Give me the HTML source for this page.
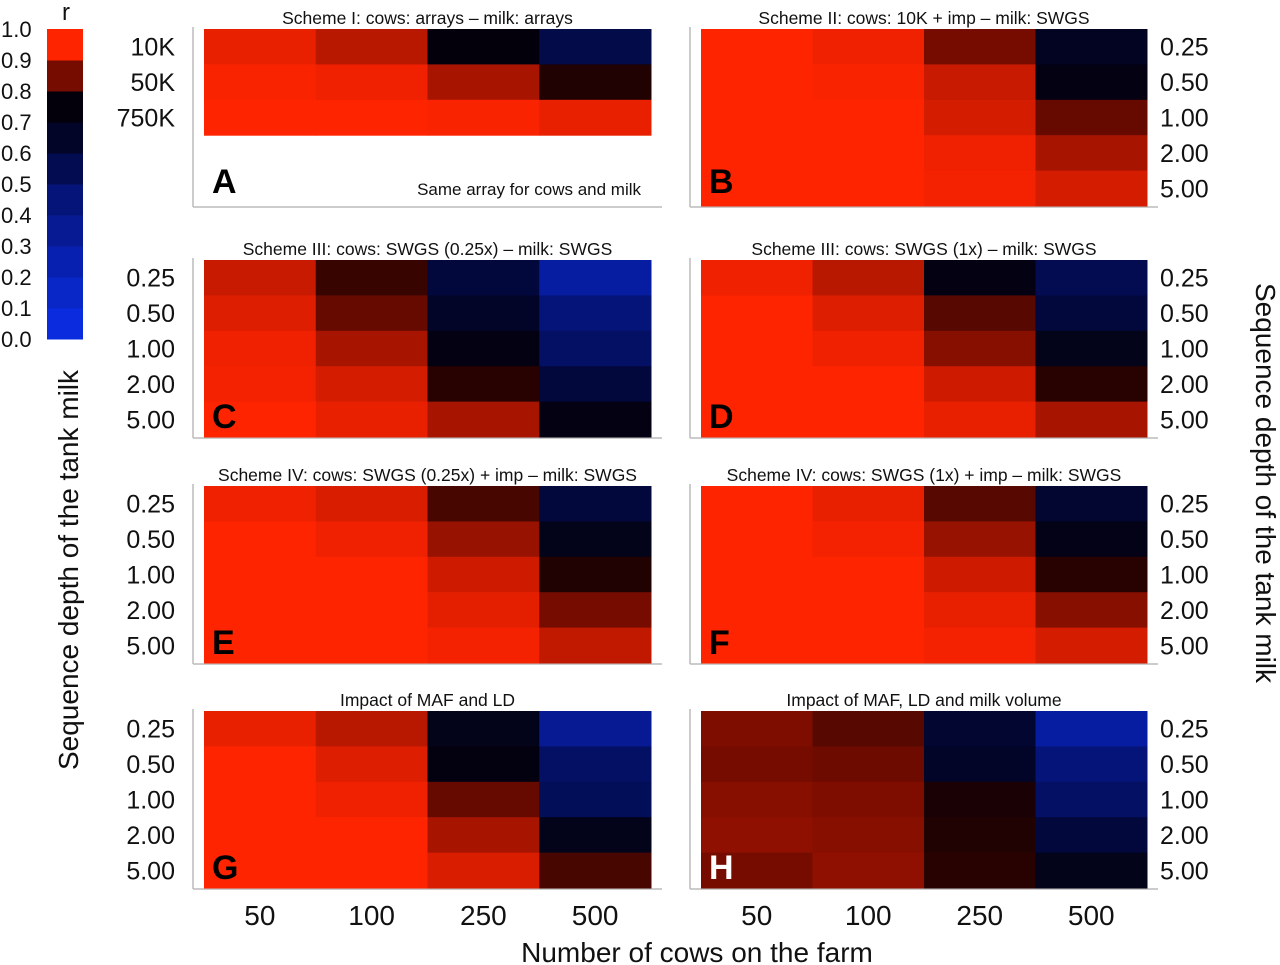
<!DOCTYPE html>
<html><head><meta charset="utf-8"><style>
html,body{margin:0;padding:0;background:#fff;width:1280px;height:965px;overflow:hidden}
svg{display:block;font-family:"Liberation Sans","DejaVu Sans",sans-serif}
</style></head><body>
<svg id="fig" width="1280" height="965" viewBox="0 0 1280 965"></svg>
<script>
const cows = ["50","100","250","500"];
const depths = ["0.25","0.50","1.00","2.00","5.00"];
const arrays = ["10K","50K","750K"];
const legendTicks = ["0.0","0.1","0.2","0.3","0.4","0.5","0.6","0.7","0.8","0.9","1.0"];
const titles = ["Scheme I: cows: arrays – milk: arrays","Scheme II: cows: 10K + imp – milk: SWGS",
"Scheme III: cows: SWGS (0.25x) – milk: SWGS","Scheme III: cows: SWGS (1x) – milk: SWGS",
"Scheme IV: cows: SWGS (0.25x) + imp – milk: SWGS","Scheme IV: cows: SWGS (1x) + imp – milk: SWGS",
"Impact of MAF and LD","Impact of MAF, LD and milk volume"];
const letters = ["A","B","C","D","E","F","G","H"];
const valsA = [[0.98,0.94,0.80,0.62],[0.995,0.985,0.93,0.84],[1,1,0.995,0.98]];
const valsB = [[1,0.985,0.90,0.72],[1,0.995,0.95,0.78],[1,1,0.96,0.89],[1,1,0.985,0.93],[1,1,0.99,0.96]];
const valsC = [[0.95,0.86,0.65,0.35],[0.97,0.89,0.70,0.50],[0.985,0.93,0.78,0.55],[0.99,0.96,0.85,0.65],[1,0.98,0.93,0.78]];
const valsD = [[0.985,0.94,0.78,0.60],[1,0.97,0.88,0.65],[1,0.985,0.91,0.75],[1,1,0.955,0.85],[1,1,0.98,0.93]];
const valsE = [[0.985,0.965,0.87,0.65],[1,0.985,0.92,0.75],[1,1,0.955,0.84],[1,1,0.975,0.90],[1,1,0.99,0.945]];
const valsF = [[1,0.98,0.88,0.68],[1,0.99,0.92,0.76],[1,1,0.955,0.85],[1,1,0.98,0.91],[1,1,0.99,0.96]];
const valsG = [[0.98,0.94,0.75,0.40],[1,0.97,0.79,0.55],[1,0.985,0.89,0.58],[1,1,0.93,0.75],[1,1,0.965,0.87]];
const valsH = [[0.905,0.88,0.68,0.35],[0.90,0.895,0.70,0.50],[0.91,0.905,0.83,0.55],[0.915,0.91,0.84,0.65],[0.90,0.915,0.85,0.75]];

const NS="http://www.w3.org/2000/svg";
const svg=document.getElementById('fig');
function mk(tag,attrs,parent){const e=document.createElementNS(NS,tag);for(const k in attrs)e.setAttribute(k,attrs[k]);(parent||svg).appendChild(e);return e;}
const stops=[[0,[12,50,245]],[0.3,[8,32,175]],[0.5,[5,20,120]],[0.6,[3,12,80]],[0.7,[2,5,40]],[0.8,[3,0,12]],[0.85,[40,2,0]],[0.9,[118,12,0]],[0.95,[200,26,0]],[1,[255,36,0]]];
function color(v){for(let i=1;i<stops.length;i++){if(v<=stops[i][0]){const a=stops[i-1],b=stops[i];const t=(v-a[0])/(b[0]-a[0]);const c=a[1].map((x,j)=>Math.round(x+(b[1][j]-x)*t));return `rgb(${c})`;}}return 'rgb(255,36,0)';}
function txt(s,x,y,size,anchor,extra,name){const t=mk('text',Object.assign({x:x,y:y,'font-size':size,'text-anchor':anchor||'start',fill:'#111'},extra||{}));t.textContent=s;

return t;}

// legend
const lgX=47,lgW=36,lgTop=29,lgBot=339;
const lgY=v=>lgBot-(lgBot-lgTop)*v;
const legendBins=[0.05,0.15,0.25,0.35,0.45,0.55,0.65,0.75,0.85,0.95];
legendBins.forEach((v,i)=>{const r=mk('rect',{x:lgX,y:lgY(v+0.05),width:lgW,height:lgY(v-0.05)-lgY(v+0.05)+0.5,fill:color(Math.min(1,v+0.05))});

});
legendTicks.forEach((s,i)=>txt(s,1,lgY(i/10)+8,22,'start',{},'legend-tick'));
txt('r',66,20,24,'middle',{},'legend-title');

// panels
const colsL=[204,651],colsR=[701,1147];
const panels=[
 {v:valsA,rows:arrays,x:colsL,y:29,side:'L',axisB:207},
 {v:valsB,rows:depths,x:colsR,y:29,side:'R',axisB:207},
 {v:valsC,rows:depths,x:colsL,y:260,side:'L',axisB:438},
 {v:valsD,rows:depths,x:colsR,y:260,side:'R',axisB:438},
 {v:valsE,rows:depths,x:colsL,y:486,side:'L',axisB:664},
 {v:valsF,rows:depths,x:colsR,y:486,side:'R',axisB:664},
 {v:valsG,rows:depths,x:colsL,y:711,side:'L',axisB:889},
 {v:valsH,rows:depths,x:colsR,y:711,side:'R',axisB:889}];
const rowH=35.4;
panels.forEach((p,pi)=>{
 const g=mk('g',{});
 
 
 const cw=(p.x[1]-p.x[0])/cows.length;
 const xS=i=>p.x[0]+i*cw, yS=j=>p.y+j*rowH;
 const ax=p.x[0]-11;
 mk('line',{x1:ax,y1:p.y-2,x2:ax,y2:p.axisB,stroke:'#bbb','stroke-width':1.5},g);
 mk('line',{x1:ax,y1:p.axisB,x2:p.x[1]+11,y2:p.axisB,stroke:'#bbb','stroke-width':1.5},g);
 p.v.forEach((row,j)=>row.forEach((val,i)=>{const r=mk('rect',{x:xS(i),y:yS(j),width:cw+0.5,height:rowH+0.5,fill:color(val)},g);
  
  }));
 p.rows.forEach((s,j)=>{const y=yS(j)+rowH/2+9;
  if(p.side==='L')txt(s,175,y,25,'end',{},'y-tick');else txt(s,1160,y,25,'start',{},'y-tick');});
 txt(titles[pi],(p.x[0]+p.x[1])/2,p.y-5,17.5,'middle',{},'panel-title');
 const light=pi===7;
 txt(letters[pi],p.x[0]+8,p.y+(pi<2?164:168),34,'start',{'font-weight':'bold',fill:light?'#fff':'#000'},'panel-letter');
 if(pi===0)txt('Same array for cows and milk',641,195,17,'end',{},'panel-note');
 if(pi>=6)cows.forEach((s,i)=>txt(s,xS(i)+cw/2,925,28,'middle',{},'x-tick'));
});
txt('Number of cows on the farm',697,962,28,'middle',{},'x-axis-title');
txt('Sequence depth of the tank milk',0,0,28,'middle',{transform:'translate(78,570) rotate(-90)'},'y-axis-title-left');
txt('Sequence depth of the tank milk',0,0,28,'middle',{transform:'translate(1256,483) rotate(90)'},'y-axis-title-right');
</script>
</body></html>
